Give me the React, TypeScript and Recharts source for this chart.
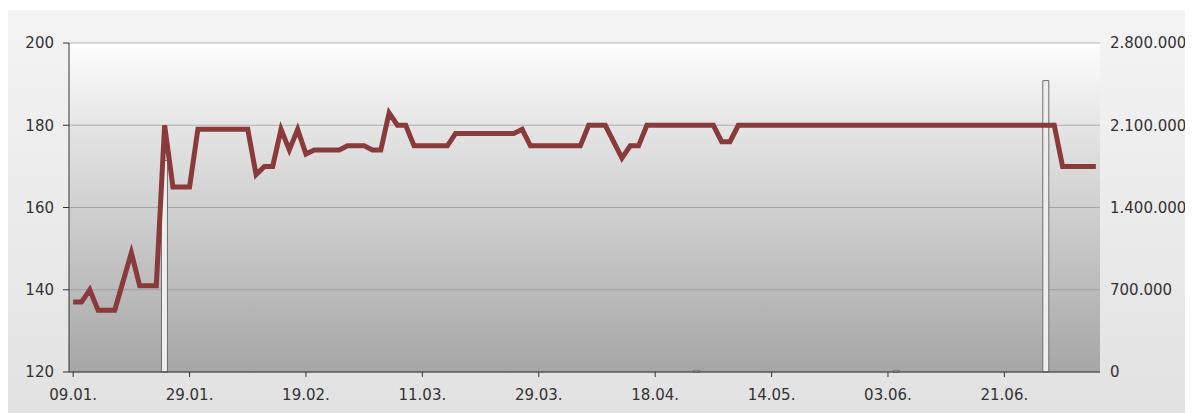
import React from "react";
import {
  ComposedChart,
  Line,
  Bar,
  XAxis,
  YAxis,
  CartesianGrid,
} from "recharts";

const LINE = "#8a3a3b";
const INK = "#333333";
const FONT = "'DejaVu Sans', Verdana, sans-serif";

// closing price per trading point (124 points)
const PRICE = [
  137, 137, 140, 135, 135, 135, 142, 149, 141, 141,
  141, 180, 165, 165, 165, 179, 179, 179, 179, 179,
  179, 179, 168, 170, 170, 179, 174, 179, 173, 174,
  174, 174, 174, 175, 175, 175, 174, 174, 183, 180,
  180, 175, 175, 175, 175, 175, 178, 178, 178, 178,
  178, 178, 178, 178, 179, 175, 175, 175, 175, 175,
  175, 175, 180, 180, 180, 176, 172, 175, 175, 180,
  180, 180, 180, 180, 180, 180, 180, 180, 176, 176,
  180, 180, 180, 180, 180, 180, 180, 180, 180, 180,
  180, 180, 180, 180, 180, 180, 180, 180, 180, 180,
  180, 180, 180, 180, 180, 180, 180, 180, 180, 180,
  180, 180, 180, 180, 180, 180, 180, 180, 180, 170,
  170, 170, 170, 170,
];

// traded volume, only a few days with turnover
const VOLUME_DAYS = [11, 75, 99, 117];
const VOLUME_VALUES = [1800000, 15000, 15000, 2480000];

const TICK_INDEX = [0, 14, 28, 42, 56, 70, 84, 98, 112];
const TICK_LABELS = [
  "09.01.", "29.01.", "19.02.", "11.03.", "29.03.",
  "18.04.", "14.05.", "03.06.", "21.06.",
];

const PRICE_TICKS = [120, 140, 160, 180, 200];
const VOLUME_TICKS = [0, 700000, 1400000, 2100000, 2800000];

const data = PRICE.map((p, i) => {
  const k = VOLUME_DAYS.indexOf(i);
  return { i, price: p, volume: k >= 0 ? VOLUME_VALUES[k] : null };
});

const fmtThousands = (v: number) =>
  String(v).replace(/\B(?=(\d{3})+(?!\d))/g, ".");

const tickStyle = { fontSize: 15, fill: INK, fontFamily: FONT };

export default function App() {
  return (
    <div
      style={{
        marginTop: 2,
        width: 1185,
        height: 403,
        background: "linear-gradient(#f4f4f4, #e2e2e2)",
      }}
    >
      <ComposedChart
        width={1185}
        height={403}
        data={data}
        margin={{ top: 33, right: 0, bottom: 0, left: 0 }}
        barCategoryGap={0}
      >
        <defs>
          <linearGradient id="plot-bg" x1="0" y1="0" x2="0" y2="1">
            <stop offset="0%" stopColor="#fefefe" />
            <stop offset="25%" stopColor="#e5e5e5" />
            <stop offset="60%" stopColor="#c8c8c8" />
            <stop offset="100%" stopColor="#a6a6a6" />
          </linearGradient>
        </defs>
        <CartesianGrid
          vertical={false}
          fill="url(#plot-bg)"
          stroke="#8a8a8a"
          strokeOpacity={0.6}
          yAxisId="price"
        />
        <XAxis
          dataKey="i"
          type="category"
          ticks={TICK_INDEX}
          tickFormatter={(v) => TICK_LABELS[TICK_INDEX.indexOf(v)] ?? ""}
          height={41}
          stroke={INK}
          tick={tickStyle}
          tickSize={5}
          tickMargin={12}
          interval={0}
        />
        <YAxis
          yAxisId="price"
          orientation="left"
          domain={[120, 200]}
          ticks={PRICE_TICKS}
          width={61}
          stroke={INK}
          tick={tickStyle}
          tickSize={6}
          tickMargin={9}
          allowDataOverflow
        />
        <YAxis
          yAxisId="vol"
          orientation="right"
          domain={[0, 2800000]}
          ticks={VOLUME_TICKS}
          width={93}
          axisLine={false}
          tickLine={false}
          tick={{ ...tickStyle, textAnchor: "start" }}
          tickSize={3}
          tickMargin={7}
          tickFormatter={fmtThousands}
        />
        <Bar
          yAxisId="vol"
          dataKey="volume"
          barSize={6}
          fill="#eeeeee"
          stroke="#6e6e6e"
          strokeWidth={1}
          isAnimationActive={false}
        />
        <Line
          yAxisId="price"
          dataKey="price"
          type="linear"
          stroke={LINE}
          strokeWidth={5}
          dot={false}
          activeDot={false}
          isAnimationActive={false}
        />
      </ComposedChart>
    </div>
  );
}
